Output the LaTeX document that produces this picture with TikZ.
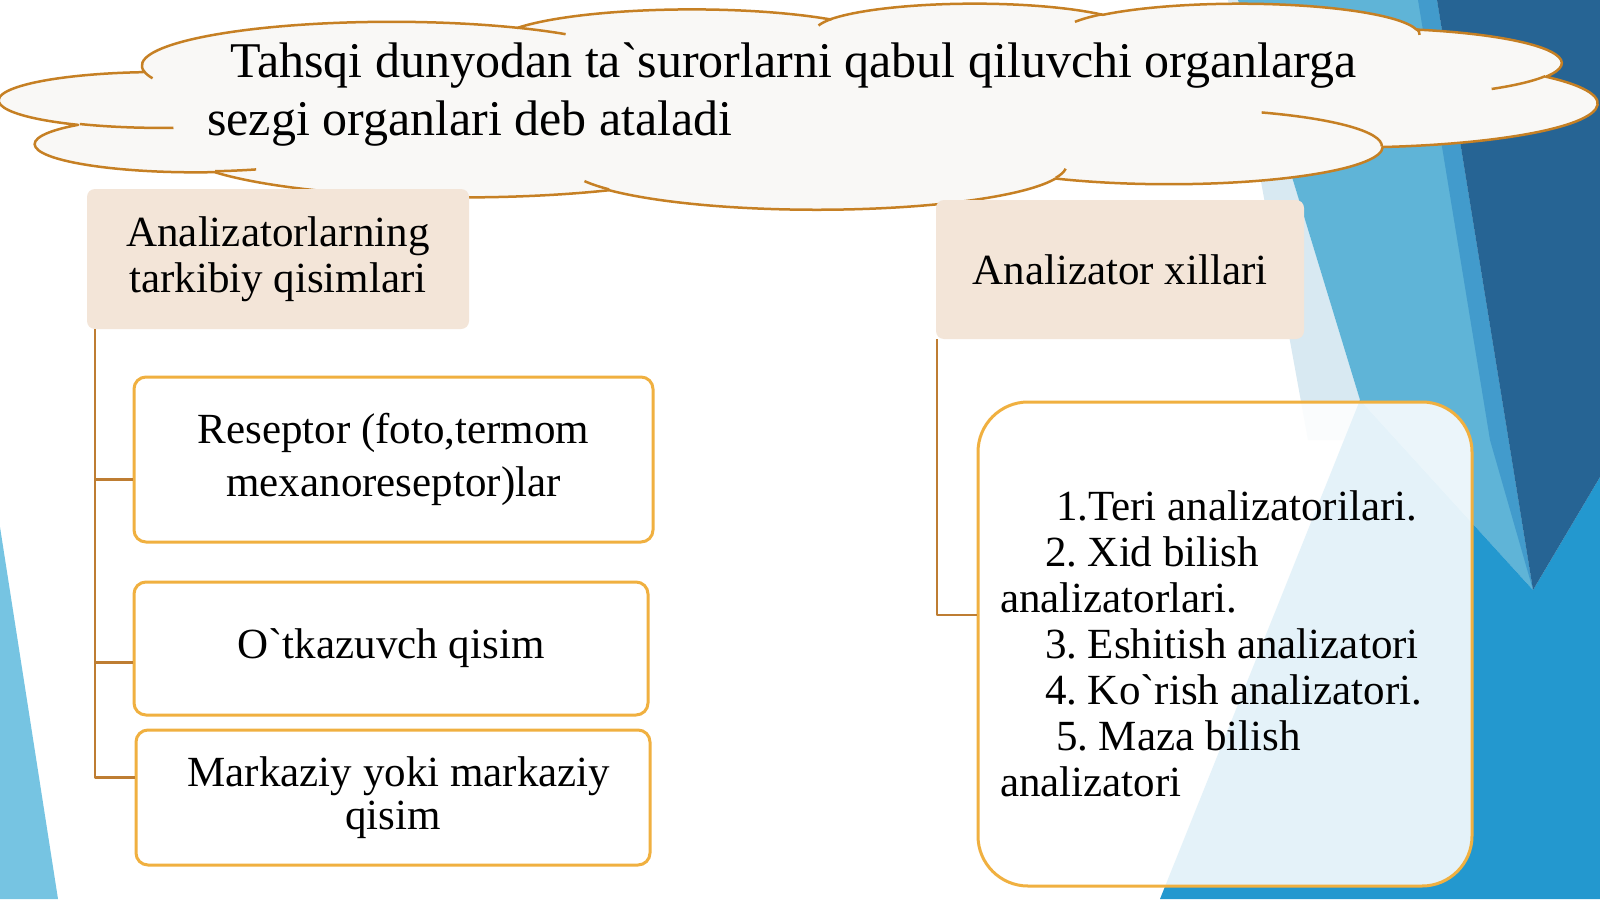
\documentclass[tikz,border=0pt]{standalone}
\usepackage{fontspec}
\setmainfont{Liberation Serif}[Ligatures=TeXOff]
\usetikzlibrary{calc}
\frenchspacing
\definecolor{hdrfill}{RGB}{243,229,216}
\definecolor{boxline}{RGB}{240,176,64}
\definecolor{connline}{RGB}{190,125,50}
\definecolor{cloudline}{RGB}{198,128,36}
\definecolor{cloudfill}{RGB}{249,248,246}
\definecolor{bgdark}{RGB}{38,100,148}
\definecolor{bgwedge}{RGB}{66,155,204}
\definecolor{bglow}{RGB}{35,152,207}
\definecolor{bglight}{RGB}{95,180,215}
\definecolor{bgpale}{RGB}{216,233,242}
\definecolor{bgleft}{RGB}{118,196,226}
\newcommand\cloudarc[4]{arc[x radius={#1*0.36968pt}, y radius={#2*0.047685pt}, start angle={-atan2(#1*sin(#3),#2*cos(#3))}, delta angle={-mod(atan2(#1*sin(#3+#4),#2*cos(#3+#4))-atan2(#1*sin(#3),#2*cos(#3))+720,360)}]}
\tikzset{
  hdr/.style={fill=hdrfill, rounded corners=8pt, align=center, inner sep=0pt,
    font=\fontsize{43}{46}\selectfont},
  itembox/.style={draw=boxline, line width=3pt, fill=white, rounded corners=12pt,
    align=center, inner sep=0pt, font=\fontsize{43}{53}\selectfont},
  conn/.style={draw=connline, line width=2.5pt},
  cloudstyle/.style={draw=cloudline, line width=2.5pt},
}
\begin{document}
\begin{tikzpicture}[x=1pt,y=-1pt,line join=round]
\useasboundingbox (0,0) rectangle (1600,899);
\fill[white] (0,0) rectangle (1600,899);
% background facets
\fill[bgpale] (1228,0) -- (1238,0) -- (1360,400) -- (1372,440) -- (1308,440) -- cycle;
\fill[bglight] (1238,0) -- (1437,0) -- (1533,590) -- (1360,400) -- cycle;
\fill[bgwedge] (1418,0) -- (1437,0) -- (1533,590) -- (1490,440) -- cycle;
\fill[bglow] (1360,400) -- (1533,590) -- (1600,477) -- (1600,899) -- (1160,899) -- cycle;
\fill[bgdark] (1437,0) -- (1600,0) -- (1600,477) -- (1533,590) -- cycle;
\fill[bgleft] (0,527) -- (58,899) -- (0,899) -- cycle;
% cloud
\begin{scope}[x=0.36968pt, y=-0.047685pt, yshift=-3pt]
\path[cloudstyle, fill=cloudfill] (390,1437)
  \cloudarc{675.3}{919}{-190.4875}{123.7805}
  \cloudarc{533.3}{726.7}{-144.1024}{89.9452}
  \cloudarc{436.5}{594.5}{-145.8079}{99.7230}
  \cloudarc{485.7}{659.5}{-130.9861}{117.2417}
  \cloudarc{533.3}{727.3}{-78.7089}{109.0269}
  \cloudarc{677.5}{922}{-46.2673}{130.2690}
  \cloudarc{578.5}{786.7}{0.6250}{114.0333}
  \cloudarc{675.2}{921.5}{22.4516}{115.1726}
  \cloudarc{772}{1054.3}{66.2426}{75.7110}
  \cloudarc{436}{591.8}{-274.9421}{146.7356}
  \cloudarc{434.5}{594.5}{-246.8285}{152.5189}
  -- cycle;
\path[cloudstyle]
  (469.3,2617.7) \cloudarc{434.5}{594.5}{86.742}{26.4295}
  (692.8,3489.9) \cloudarc{436}{591.8}{73.6105}{11.4475}
  (1647.8,3909) \cloudarc{675.2}{921.5}{137.6242}{14.0811}
  (2882.7,3475.1) \cloudarc{675.2}{921.5}{6.4533}{15.9984}
  (3412.9,2295.4) \cloudarc{578.5}{786.7}{-70.2924}{70.9174}
  (4179.8,1535.4) \cloudarc{533.3}{727.3}{30.318}{27.7515}
  (3832.4,542.6) \cloudarc{485.7}{659.5}{-13.7443}{14.8589}
  (2907.8,395.2) \cloudarc{485.7}{659.5}{-149.1815}{18.1954}
  (2214.1,472) \cloudarc{436.5}{594.5}{-163.4943}{17.6864}
  (1400,519.2) \cloudarc{675.3}{919}{-66.707}{12.3194}
  (412.7,1578.9) \cloudarc{675.3}{919}{157.6544}{11.8582};
\end{scope}
\node[anchor=base west, align=left, inner sep=0pt, font=\fontsize{50}{58}\selectfont] (title) at (207,135)
  {\hspace*{23pt}Tahsqi dunyodan ta`surorlarni qabul qiluvchi organlarga\\sezgi organlari deb ataladi};
% headers
\node[hdr, minimum width=382pt, minimum height=140pt] (h1) at (278,259) {Analizatorlarning\\tarkibiy qisimlari};
\node[hdr, minimum width=368pt, minimum height=139pt] (h2) at (1120,269.5) {Analizator xillari};
% left items
\node[itembox, minimum width=519pt, minimum height=165pt] (b1) at (393.5,459.5) {Reseptor (foto,termom\\mexanoreseptor)lar};
\node[itembox, minimum width=514pt, minimum height=133pt] (b2) at (391,648.5) {O`tkazuvch qisim};
\node[itembox, minimum width=514pt, minimum height=135pt, font=\fontsize{43}{43}\selectfont] (b3) at (393,797.5) {\hspace*{12pt}Markaziy yoki markaziy\\qisim};
% right card
\node[draw=boxline, line width=3pt, fill=white, fill opacity=0.88, text opacity=1, rounded corners=50pt,
  text width=450pt, inner xsep=22pt, inner ysep=0pt, minimum height=484pt, align=flush left,
  font=\fontsize{43}{46}\selectfont] (card) at (1225,644)
  {\hspace*{56pt}1.Teri analizatorilari.\\\hspace*{45pt}2. Xid bilish\\analizatorlari.\\\hspace*{45pt}3. Eshitish analizatori\\\hspace*{45pt}4. Ko`rish analizatori.\\\hspace*{56pt}5. Maza bilish\\analizatori};
% connectors
\draw[conn] ($(h1.south west)+(8,0)$) |- ($(b1.west)+(0,20)$);
\draw[conn] ($(h1.south west)+(8,0)$) |- ($(b2.west)+(0,14)$);
\draw[conn] ($(h1.south west)+(8,0)$) |- ($(b3.west)+(0,-20)$);
\draw[conn] ($(h2.south west)+(1,0)$) |- ($(card.west)+(0,-29)$);
\end{tikzpicture}
\end{document}
